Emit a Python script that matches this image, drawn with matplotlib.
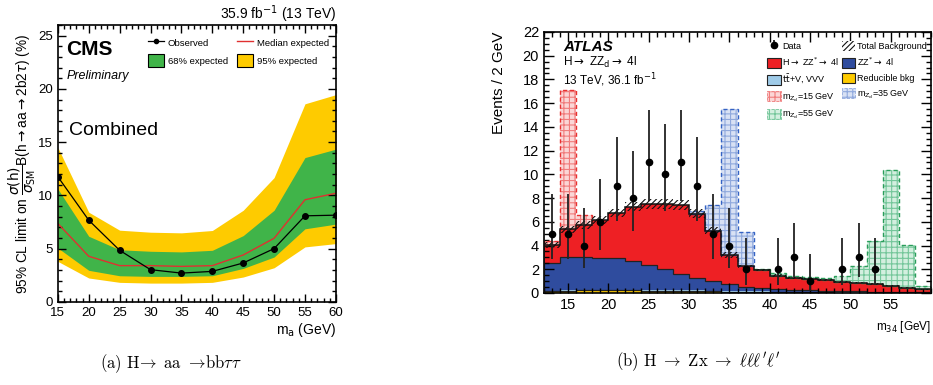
import matplotlib
matplotlib.use("Agg")
import matplotlib.pyplot as plt
import numpy as np
from matplotlib.lines import Line2D
from matplotlib.patches import Patch
from matplotlib.ticker import MultipleLocator, FixedLocator

plt.rcParams['font.family'] = ['Liberation Sans', 'DejaVu Sans']
plt.rcParams['hatch.linewidth'] = 0.8

# ---- (a) CMS h -> aa -> bbtautau limits
ma = [15, 20, 25, 30, 35, 40, 45, 50, 55, 60]
observed = [11.75, 7.67, 4.84, 3.02, 2.70, 2.86, 3.65, 5.00, 8.08, 8.14]
median = [7.36, 4.28, 3.40, 3.40, 3.33, 3.40, 4.40, 5.97, 9.59, 10.2]
band68_lo = [5.06, 2.96, 2.45, 2.39, 2.39, 2.45, 3.14, 4.21, 6.86, 7.30]
band68_hi = [10.6, 6.16, 4.89, 4.75, 4.69, 4.84, 6.22, 8.60, 13.55, 14.34]
band95_lo = [3.80, 2.24, 1.83, 1.76, 1.76, 1.83, 2.33, 3.20, 5.16, 5.47]
band95_hi = [14.5, 8.42, 6.73, 6.54, 6.48, 6.70, 8.60, 11.67, 18.6, 19.46]

# ---- (b) ATLAS m34 distribution, 2 GeV bins from 12 to 60
m34_edges = [12, 14, 16, 18, 20, 22, 24, 26, 28, 30, 32, 34, 36, 38, 40,
             42, 44, 46, 48, 50, 52, 54, 56, 58, 60]
reducible = [0.15, 0.20, 0.22, 0.22, 0.22, 0.22, 0.20, 0.20, 0.18, 0.16, 0.14, 0.12,
             0.10, 0.08, 0.07, 0.06, 0.05, 0.05, 0.04, 0.04, 0.03, 0.03, 0.02, 0.02]
ttv = [0.03, 0.03, 0.04, 0.04, 0.05, 0.05, 0.06, 0.06, 0.06, 0.06, 0.06, 0.06,
       0.05, 0.05, 0.05, 0.05, 0.05, 0.05, 0.05, 0.04, 0.04, 0.04, 0.04, 0.03]
zz = [2.32, 2.83, 2.80, 2.72, 2.66, 2.46, 2.10, 1.74, 1.36, 1.04, 0.83, 0.55,
      0.38, 0.32, 0.18, 0.16, 0.12, 0.08, 0.06, 0.05, 0.05, 0.03, 0.02, 0.01]
hzz = [1.55, 2.31, 2.67, 3.17, 3.79, 4.55, 5.14, 5.50, 5.82, 5.40, 4.22, 2.47,
       1.72, 1.49, 1.16, 1.03, 1.00, 0.92, 0.78, 0.74, 0.64, 0.52, 0.37, 0.24]
bkg_unc = [0.25, 0.30, 0.32, 0.33, 0.35, 0.40, 0.42, 0.42, 0.42, 0.38, 0.32, 0.22,
           0.15, 0.12, 0.10, 0.08, 0.08, 0.07, 0.06, 0.06, 0.05, 0.05, 0.04, 0.03]
sig15 = [0.35, 11.75, 0.87, 0, 0, 0, 0, 0, 0, 0, 0, 0,
         0, 0, 0, 0, 0, 0, 0, 0, 0, 0, 0, 0]
sig35 = [0, 0, 0, 0, 0, 0, 0, 0, 0, 0.25, 2.15, 12.3,
         2.9, 0, 0, 0, 0, 0, 0, 0, 0, 0, 0, 0]
sig55 = [0, 0, 0, 0, 0, 0, 0, 0, 0, 0, 0, 0,
         0, 0.06, 0.20, 0.15, 0.16, 0.20, 0.47, 1.41, 3.62, 9.78, 3.60, 0.30]

data_x = [13, 15, 17, 19, 21, 23, 25, 27, 29, 31, 33, 35, 37, 41, 43, 45, 49, 51, 53]
data_n = [5, 5, 4, 6, 9, 8, 11, 10, 11, 9, 5, 4, 2, 2, 3, 1, 2, 3, 2]
data_lo = [2.16, 2.16, 1.91, 2.38, 2.94, 2.77, 3.27, 3.11, 3.27, 2.94, 2.16, 1.91,
           1.29, 1.29, 1.63, 0.83, 1.29, 1.63, 1.29]
data_hi = [3.38, 3.38, 3.16, 3.58, 4.11, 3.95, 4.42, 4.27, 4.42, 4.11, 3.38, 3.16,
           2.64, 2.64, 2.92, 2.30, 2.64, 2.92, 2.64]

green = '#40b449'
yellow = '#fecb00'
red_line = '#e03030'

fig = plt.figure(figsize=(9.33, 3.85), dpi=100)

# ================= panel (a)
ax1 = fig.add_axes([0.062, 0.216, 0.298, 0.719])
ax1.fill_between(ma, band95_lo, band95_hi, color=yellow, lw=0)
ax1.fill_between(ma, band68_lo, band68_hi, color=green, lw=0)
ax1.plot(ma, median, color=red_line, lw=1)
ax1.plot(ma, observed, color='k', lw=0.9, marker='o', ms=4)
ax1.set_xlim(15, 60)
ax1.set_ylim(0, 26)
ax1.xaxis.set_major_locator(MultipleLocator(5))
ax1.xaxis.set_minor_locator(MultipleLocator(1))
ax1.yaxis.set_major_locator(MultipleLocator(5))
ax1.yaxis.set_minor_locator(MultipleLocator(1))
ax1.tick_params(which='both', direction='in', top=True, right=True, labelsize=9.5, width=1)
ax1.tick_params(which='major', length=6)
ax1.tick_params(which='minor', length=3)
for s in ax1.spines.values():
    s.set_linewidth(1.2)
ax1.set_title(r'35.9 fb$^{-1}$ (13 TeV)', loc='right', fontsize=10, pad=3)
ax1.set_xlabel(r'm$_{\mathrm{a}}$ (GeV)', loc='right', fontsize=10, labelpad=2)
ax1.set_ylabel(r'95% CL limit on $\dfrac{\sigma(\mathrm{h})}{\sigma_{\mathrm{SM}}}$'
               r'B(h$\rightarrow$aa$\rightarrow$2b2$\tau$) (%)', fontsize=9.8, labelpad=0)
ax1.text(0.03, 0.91, 'CMS', transform=ax1.transAxes, fontsize=15, fontweight='bold', va='center')
ax1.text(0.03, 0.815, 'Preliminary', transform=ax1.transAxes, fontsize=9, style='italic', va='center')
ax1.text(0.04, 0.62, 'Combined', transform=ax1.transAxes, fontsize=14, va='center')

h_obs = Line2D([], [], color='k', lw=0.9, marker='o', ms=3)
h_med = Line2D([], [], color=red_line, lw=1)
h68 = Patch(facecolor=green, edgecolor='k', lw=0.8)
h95 = Patch(facecolor=yellow, edgecolor='k', lw=0.8)
ax1.legend([h_obs, h68, h_med, h95],
           ['Observed', '68% expected', 'Median expected', '95% expected'],
           ncol=2, loc='upper left', bbox_to_anchor=(0.3, 0.985), frameon=False,
           fontsize=6.8, handlelength=1.7, handleheight=1.8, labelspacing=0.5,
           columnspacing=1.0, handletextpad=0.4, borderpad=0.2)

# ================= panel (b)
ax2 = fig.add_axes([0.583, 0.239, 0.415, 0.678])
edges = np.array(m34_edges)
b0 = np.zeros(len(reducible))
b1 = b0 + np.array(reducible)
b2 = b1 + np.array(ttv)
b3 = b2 + np.array(zz)
total = b3 + np.array(hzz)

ax2.stairs(b1, edges, baseline=b0, fill=True, color=yellow, zorder=1)
ax2.stairs(b2, edges, baseline=b1, fill=True, color='#9fcbe8', zorder=1)
ax2.stairs(b3, edges, baseline=b2, fill=True, color='#2f4c9e', zorder=1)
ax2.stairs(total, edges, baseline=b3, fill=True, color='#ee2024', zorder=1)
for top in (b1, b3):
    ax2.stairs(top, edges, color='#222222', lw=0.9, zorder=1.5)

sig_styles = [(sig15, '#fbd6d6', '#f07c7c', '#e83030'),
              (sig35, '#d8e1f4', '#90a9dd', '#3563c4'),
              (sig55, '#d3efdf', '#74c69a', '#2a9d5a')]
for sig, face, hat, edge in sig_styles:
    sig = np.array(sig)
    nz = np.nonzero(sig)[0]
    i0, i1 = nz[0], nz[-1] + 1
    lo = total[i0:i1]
    hi = lo + sig[i0:i1]
    e = edges[i0:i1 + 1]
    ax2.stairs(hi, e, baseline=lo, fill=True, facecolor=face, edgecolor=hat,
               lw=0, hatch='+++', zorder=2)
    ax2.stairs(hi, e, baseline=lo, fill=True, facecolor='none', edgecolor=edge,
               lw=1.0, ls=(0, (3, 2)), zorder=2.2)

unc = np.array(bkg_unc)
ax2.stairs(total + unc, edges, baseline=total - unc, fill=True, facecolor='none',
           edgecolor='#111111', lw=0, hatch='//////', zorder=3)
ax2.stairs(total, edges, color='#111111', lw=1.1, zorder=3)

eb = ax2.errorbar(data_x, data_n, yerr=[data_lo, data_hi], fmt='o', color='k', ms=4.5,
                  elinewidth=1.3, ecolor='#222222', capsize=0, zorder=5)

ax2.set_xlim(12, 60)
ax2.set_ylim(0, 22)
ax2.xaxis.set_major_locator(FixedLocator([15, 20, 25, 30, 35, 40, 45, 50, 55]))
ax2.xaxis.set_minor_locator(MultipleLocator(1))
ax2.yaxis.set_major_locator(MultipleLocator(2))
ax2.yaxis.set_minor_locator(MultipleLocator(0.5))
ax2.tick_params(which='both', direction='in', top=True, right=True, labelsize=10.5, width=1)
ax2.tick_params(which='major', length=7)
ax2.tick_params(which='minor', length=3.5)
for s in ax2.spines.values():
    s.set_linewidth(1.2)
ax2.set_ylabel('Events / 2 GeV', loc='top', fontsize=11, labelpad=12)
ax2.set_xlabel(r'm$_{34}$ [GeV]', loc='right', fontsize=8.5, labelpad=5)
ax2.text(0.05, 0.943, 'ATLAS', transform=ax2.transAxes, fontsize=11, fontweight='bold',
         style='italic', va='center')
ax2.text(0.05, 0.882, r'H$\rightarrow$ ZZ$_{\mathrm{d}}$$\rightarrow$ 4l', transform=ax2.transAxes,
         fontsize=8.5, va='center')
ax2.text(0.05, 0.816, r'13 TeV, 36.1 fb$^{-1}$', transform=ax2.transAxes, fontsize=8.5, va='center')

handles = [eb,
           Patch(facecolor='#ee2024', edgecolor='#222222', lw=0.8),
           Patch(facecolor='#9fcbe8', edgecolor='#222222', lw=0.8),
           Patch(facecolor='#fbd6d6', edgecolor='#f07c7c', hatch='+++', lw=0.6, ls='--'),
           Patch(facecolor='#d3efdf', edgecolor='#74c69a', hatch='+++', lw=0.6, ls='--'),
           Patch(facecolor='white', edgecolor='#111111', hatch='//////', lw=0),
           Patch(facecolor='#2f4c9e', edgecolor='#222222', lw=0.8),
           Patch(facecolor=yellow, edgecolor='#222222', lw=0.8),
           Patch(facecolor='#d8e1f4', edgecolor='#90a9dd', hatch='+++', lw=0.6, ls='--')]
labels = ['Data', r'H$\rightarrow$ ZZ$^{*}$$\rightarrow$ 4l', r'$\mathrm{t\bar{t}}$+V, VVV',
          r'm$_{\mathrm{Z_d}}$=15 GeV', r'm$_{\mathrm{Z_d}}$=55 GeV',
          'Total Background', r'ZZ$^{*}$$\rightarrow$ 4l', 'Reducible bkg',
          r'm$_{\mathrm{Z_d}}$=35 GeV']
ax2.legend(handles, labels, ncol=2, loc='upper left', bbox_to_anchor=(0.56, 0.99),
           frameon=False, fontsize=6.5, handlelength=1.5, handleheight=1.3,
           labelspacing=0.55, columnspacing=0.3, handletextpad=0.2, borderpad=0.2)

# captions
fig.text(0.183, 0.045, r'$\mathrm{(a)\ H}\!\rightarrow\ \mathrm{aa}\ \rightarrow\!\mathrm{bb}\tau\tau$',
         ha='center', fontsize=12, math_fontfamily='cm')
fig.text(0.748, 0.05, r'$\mathrm{(b)\ H}\ \rightarrow\ \mathrm{Zx}\ \rightarrow\ \ell\ell\ell^{\prime}\ell^{\prime}$',
         ha='center', fontsize=12, math_fontfamily='cm')

fig.savefig('out.png', dpi=100)
